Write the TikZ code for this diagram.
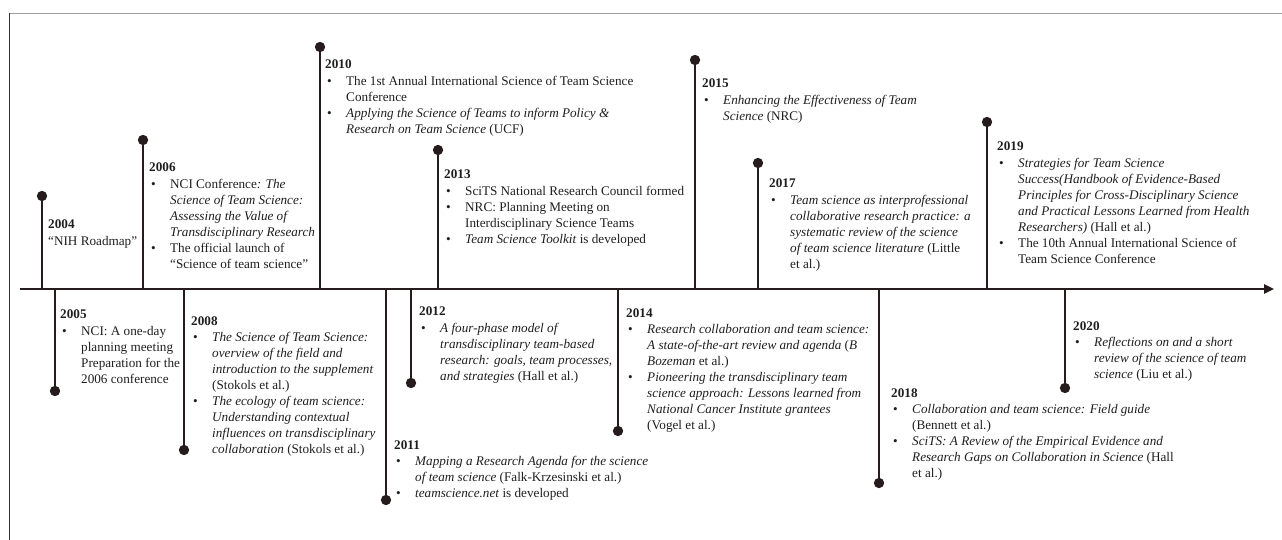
\documentclass[tikz,border=0pt]{standalone}
\usepackage{fontspec}
\setmainfont{Liberation Serif}
\usetikzlibrary{arrows.meta}

\definecolor{linecol}{RGB}{38,28,30}
\definecolor{txtcol}{RGB}{30,30,30}
\newcommand{\yr}[1]{\textbf{#1}}
\newcommand{\bul}{\hspace*{1.7pt}\makebox[16.2pt][l]{\textbullet}}
\newcommand{\cnt}{\hspace*{17.9pt}}

\tikzset{
  evtext/.style={anchor=north west, inner sep=0pt, align=left, text=txtcol,
    font=\fontsize{11.25}{13.75}\selectfont},
  stem/.style={draw=linecol, line width=1.6pt},
  dot/.style={circle, fill=linecol, inner sep=0pt, minimum size=0.31cm},
  axisline/.style={draw=linecol, line width=2pt, -{Triangle[length=0.3cm,width=0.27cm]}}
}

\begin{document}
\begin{tikzpicture}[x=0.03cm, y=-0.03cm]
\useasboundingbox (0,0) rectangle (1282,540);
\draw[gray!75, line width=0.8pt] (9.5,13) -- (1282,13);
\draw[black!80, line width=0.8pt] (9.5,13) -- (9.5,540);

\coordinate (start) at (20,289);
\coordinate (end) at (1274,289);
\draw[axisline] (start) -- (end);

\coordinate (a04) at (42,289);
\node[dot] (d04) at (42,196) {};
\draw[stem] (a04) -- (d04.center);
\node[evtext] (t04) at (48,220) {\yr{2004}\\“NIH Roadmap”};

\coordinate (a06) at (143,289);
\node[dot] (d06) at (143,140) {};
\draw[stem] (a06) -- (d06.center);
\node[evtext] (t06) at (149,163) {\yr{2006}\\
  \bul NCI Conference\textit{: The}\\
  \cnt\textit{Science of Team Science:}\\
  \cnt\textit{Assessing the Value of}\\
  \cnt\textit{Transdisciplinary Research}\\
  \bul The official launch of\\
  \cnt“Science of team science”};

\coordinate (a10) at (320,289);
\node[dot] (d10) at (320,47) {};
\draw[stem] (a10) -- (d10.center);
\node[evtext] (t10) at (325,60) {\yr{2010}\\
  \bul The 1st Annual International Science of Team Science\\
  \cnt Conference\\
  \bul\textit{Applying the Science of Teams to inform Policy \&}\\
  \cnt\textit{Research on Team Science} (UCF)};

\coordinate (a13) at (438,289);
\node[dot] (d13) at (438,150) {};
\draw[stem] (a13) -- (d13.center);
\node[evtext] (t13) at (444,170) {\yr{2013}\\
  \bul SciTS National Research Council formed\\
  \bul NRC: Planning Meeting on\\
  \cnt Interdisciplinary Science Teams\\
  \bul\textit{Team Science Toolkit} is developed};

\coordinate (a15) at (695,289);
\node[dot] (d15) at (695,60) {};
\draw[stem] (a15) -- (d15.center);
\node[evtext] (t15) at (702,79) {\yr{2015}\\
  \bul\textit{Enhancing the Effectiveness of Team}\\
  \cnt\textit{Science} (NRC)};

\coordinate (a17) at (758,289);
\node[dot] (d17) at (758,163) {};
\draw[stem] (a17) -- (d17.center);
\node[evtext] (t17) at (769,179) {\yr{2017}\\
  \bul\textit{Team science as interprofessional}\\
  \cnt\textit{collaborative research practice: a}\\
  \cnt\textit{systematic review of the science}\\
  \cnt\textit{of team science literature} (Little\\
  \cnt et al.)};

\coordinate (a19) at (987,289);
\node[dot] (d19) at (987,122) {};
\draw[stem] (a19) -- (d19.center);
\node[evtext] (t19) at (997,142) {\yr{2019}\\
  \bul\textit{Strategies for Team Science}\\
  \cnt\textit{Success(Handbook of Evidence-Based}\\
  \cnt\textit{Principles for Cross-Disciplinary Science}\\
  \cnt\textit{and Practical Lessons Learned from Health}\\
  \cnt\textit{Researchers)} (Hall et al.)\\
  \bul The 10th Annual International Science of\\
  \cnt Team Science Conference};

\coordinate (a05) at (55,289);
\node[dot] (d05) at (55,391) {};
\draw[stem] (a05) -- (d05.center);
\node[evtext] (t05) at (60,310) {\yr{2005}\\
  \bul NCI: A one-day\\
  \cnt planning meeting\\
  \cnt Preparation for the\\
  \cnt 2006 conference};

\coordinate (a08) at (184,289);
\node[dot] (d08) at (184,450) {};
\draw[stem] (a08) -- (d08.center);
\node[evtext] (t08) at (191,316) {\yr{2008}\\
  \bul\textit{The Science of Team Science:}\\
  \cnt\textit{overview of the field and}\\
  \cnt\textit{introduction to the supplement}\\
  \cnt(Stokols et al.)\\
  \bul\textit{The ecology of team science:}\\
  \cnt\textit{Understanding contextual}\\
  \cnt\textit{influences on transdisciplinary}\\
  \cnt\textit{collaboration} (Stokols et al.)};

\coordinate (a11) at (386,289);
\node[dot] (d11) at (386,500) {};
\draw[stem] (a11) -- (d11.center);
\node[evtext] (t11) at (394,440) {\yr{2011}\\
  \bul\textit{Mapping a Research Agenda for the science}\\
  \cnt\textit{of team science} (Falk-Krzesinski et al.)\\
  \bul\textit{teamscience.net} is developed};

\coordinate (a12) at (411,289);
\node[dot] (d12) at (411,383) {};
\draw[stem] (a12) -- (d12.center);
\node[evtext] (t12) at (419,307) {\yr{2012}\\
  \bul\textit{A four-phase model of}\\
  \cnt\textit{transdisciplinary team-based}\\
  \cnt\textit{research: goals, team processes,}\\
  \cnt\textit{and strategies} (Hall et al.)};

\coordinate (a14) at (618,289);
\node[dot] (d14) at (618,431) {};
\draw[stem] (a14) -- (d14.center);
\node[evtext] (t14) at (626,308) {\yr{2014}\\
  \bul\textit{Research collaboration and team science:}\\
  \cnt\textit{A state-of-the-art review and agenda} (\textit{B}\\
  \cnt\textit{Bozeman} et al.)\\
  \bul\textit{Pioneering the transdisciplinary team}\\
  \cnt\textit{science approach: Lessons learned from}\\
  \cnt\textit{National Cancer Institute grantees}\\
  \cnt(Vogel et al.)};

\coordinate (a18) at (879,289);
\node[dot] (d18) at (879,483) {};
\draw[stem] (a18) -- (d18.center);
\node[evtext] (t18) at (891,388) {\yr{2018}\\
  \bul\textit{Collaboration and team science: Field guide}\\
  \cnt(Bennett et al.)\\
  \bul\textit{SciTS: A Review of the Empirical Evidence and}\\
  \cnt\textit{Research Gaps on Collaboration in Science} (Hall\\
  \cnt et al.)};

\coordinate (a20) at (1065,289);
\node[dot] (d20) at (1065,388) {};
\draw[stem] (a20) -- (d20.center);
\node[evtext] (t20) at (1073,321) {\yr{2020}\\
  \bul\textit{Reflections on and a short}\\
  \cnt\textit{review of the science of team}\\
  \cnt\textit{science} (Liu et al.)};
\end{tikzpicture}
\end{document}
